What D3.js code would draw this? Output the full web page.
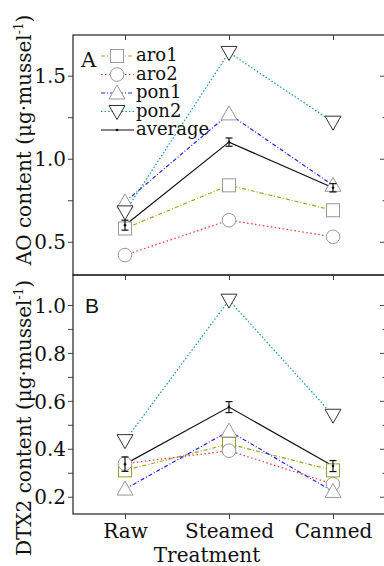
<!DOCTYPE html>
<meta charset="utf-8">
<html>
<script src="https://d3js.org/d3.v7.min.js"></script>
<style>
  body { margin: 0; background: #fff; }
  text { font-family: "DejaVu Serif", serif; fill: #111; }
</style>
<body>
<svg id="chart"></svg>
<script>
// ---------------- data ----------------
const treatments = ["Raw", "Steamed", "Canned"];
const seriesNames = ["aro1", "aro2", "pon1", "pon2"];

// panel A : AO content
const aoAro1 = [0.58, 0.84, 0.69];
const aoAro2 = [0.42, 0.63, 0.53];
const aoPon1 = [0.74, 1.27, 0.84];
const aoPon2 = [0.68, 1.64, 1.22];
const aoAvg  = [0.60, 1.10, 0.825];
const aoErr  = [0.03, 0.025, 0.025];
const aoTicks = [0.5, 1.0, 1.5];

// panel B : DTX2 content
const dtAro1 = [0.31, 0.42, 0.31];
const dtAro2 = [0.338, 0.392, 0.253];
const dtPon1 = [0.232, 0.474, 0.222];
const dtPon2 = [0.434, 1.02, 0.54];
const dtAvg  = [0.336, 0.574, 0.328];
const dtErr  = [0.03, 0.023, 0.023];
const dtTicks = [0.2, 0.4, 0.6, 0.8, 1.0];

// ---------------- layout ----------------
let width = 384, height = 566;
let svg = d3.select("#chart").attr("width", width).attr("height", height);

const left = 73, right = 385;
let x = d3.scalePoint().domain(treatments).range([left, right]).padding(0.5);

// line styles per series
const style = {
  aro1: {color: "#a3a31a", dash: "4,2,1,2"},
  aro2: {color: "#ff3333", dash: "1.5,2.5"},
  pon1: {color: "#2222ff", dash: "4,2,1,2"},
  pon2: {color: "#119999", dash: "1.5,2"}
};

function marker(g, name, cx, cy, stroke) {
  if (name == "aro1") {
    g.append("rect").attr("x", cx - 6.5).attr("y", cy - 6.5).attr("width", 13).attr("height", 13)
      .attr("fill", "#fff").attr("stroke", stroke).attr("stroke-width", 1);
  } else if (name == "aro2") {
    g.append("circle").attr("cx", cx).attr("cy", cy).attr("r", 6.8)
      .attr("fill", "#fff").attr("stroke", stroke).attr("stroke-width", 1);
  } else if (name == "pon1") {
    g.append("path").attr("d", `M${cx},${cy - 8} L${cx + 8},${cy + 6} L${cx - 8},${cy + 6} Z`)
      .attr("fill", "#fff").attr("stroke", stroke).attr("stroke-width", 1);
  } else {
    g.append("path").attr("d", `M${cx - 8},${cy - 6} L${cx + 8},${cy - 6} L${cx},${cy + 8} Z`)
      .attr("fill", "#fff").attr("stroke", stroke).attr("stroke-width", 1);
  }
}

function drawPanel(cfg) {
  let y = d3.scaleLinear().domain(cfg.domain).range([cfg.bottom, cfg.top]);
  let g = svg.append("g");

  // frame
  g.append("rect").attr("x", left).attr("y", cfg.top).attr("width", right - left)
    .attr("height", cfg.bottom - cfg.top).attr("fill", "none").attr("stroke", "#222").attr("stroke-width", 1.2);

  // left axis
  let minors = d3.range(cfg.domain[0], cfg.domain[1], cfg.minorStep)
    .map(v => Math.round(v / cfg.minorStep) * cfg.minorStep)
    .filter(v => v > cfg.domain[0] && v < cfg.domain[1]);
  let isMajor = v => cfg.ticks.some(t => Math.abs(t - v) < 1e-6);
  let ya = g.append("g").attr("transform", `translate(${left},0)`)
    .call(d3.axisLeft(y).tickValues(minors).tickSize(5).tickFormat(v => isMajor(v) ? d3.format(".1f")(v) : ""))
    .call(a => a.select(".domain").remove());
  ya.selectAll("text").style("font-family", "DejaVu Serif").style("font-size", "20px").attr("fill", "#111").attr("x", -7).attr("dy", "0.36em");
  ya.selectAll("line").attr("stroke", "#444");

  // right ticks (inward)
  let yr = g.append("g").attr("transform", `translate(${right},0)`)
    .call(d3.axisRight(y).tickValues(minors).tickSize(0).tickFormat(""))
    .call(a => a.select(".domain").remove());
  yr.selectAll(".tick line").attr("x2", v => isMajor(v) ? -5 : -2.5).attr("stroke", "#444");

  // x ticks
  g.append("g").attr("transform", `translate(0,${cfg.top})`)
    .call(d3.axisBottom(x).tickSize(5).tickFormat(""))
    .call(a => a.select(".domain").remove())
    .selectAll("line").attr("stroke", "#444");
  let xb = g.append("g").attr("transform", `translate(0,${cfg.bottom})`)
    .call(d3.axisBottom(x).tickSize(cfg.showX ? 5 : 0).tickFormat(cfg.showX ? null : ""))
    .call(a => a.select(".domain").remove());
  xb.selectAll("line").attr("stroke", "#444");
  xb.selectAll("text").style("font-family", "DejaVu Serif").style("font-size", "20px").attr("fill", "#111").attr("y", 8).attr("dy", "0.8em");

  // series lines
  let line = d3.line().x((d, i) => x(treatments[i])).y(d => y(d));
  seriesNames.forEach((name, k) => {
    g.append("path").datum(cfg.series[k]).attr("d", line).attr("fill", "none")
      .attr("stroke", style[name].color).attr("stroke-width", 1.2).attr("stroke-dasharray", style[name].dash);
  });
  // average line
  g.append("path").datum(cfg.avg).attr("d", line).attr("fill", "none").attr("stroke", "#111").attr("stroke-width", 1.2);

  // markers
  seriesNames.forEach((name, k) => {
    cfg.series[k].forEach((v, i) => marker(g, name, x(treatments[i]), y(v), cfg.stroke[k]));
  });

  // error bars
  cfg.avg.forEach((v, i) => {
    let cx = x(treatments[i]);
    let e = cfg.err[i];
    g.append("line").attr("x1", cx).attr("x2", cx).attr("y1", y(v - e)).attr("y2", y(v + e)).attr("stroke", "#111").attr("stroke-width", 1.2);
    [v - e, v + e].forEach(w => g.append("line").attr("x1", cx - 3.5).attr("x2", cx + 3.5).attr("y1", y(w)).attr("y2", y(w)).attr("stroke", "#111").attr("stroke-width", 1.2));
    g.append("circle").attr("cx", cx).attr("cy", y(v)).attr("r", 1.3).attr("fill", "#111");
  });

  // y title
  let t = svg.append("text").attr("transform", `translate(31,${cfg.titleY}) rotate(-90)`)
    .attr("text-anchor", "middle").style("font-size", "20px");
  t.append("tspan").text(cfg.title + " (μg·mussel");
  t.append("tspan").attr("dy", -8).style("font-size", "12px").text("-1");
  t.append("tspan").attr("dy", 8).text(")");
  return y;
}

drawPanel({
  top: 35, bottom: 275, domain: [0.30, 1.745], minorStep: 0.25, ticks: aoTicks,
  series: [aoAro1, aoAro2, aoPon1, aoPon2], avg: aoAvg, err: aoErr,
  stroke: ["#999", "#999", "#999", "#333"], showX: false,
  title: "AO content", titleY: 140
});
drawPanel({
  top: 275, bottom: 514, domain: [0.128, 1.125], minorStep: 0.1, ticks: dtTicks,
  series: [dtAro1, dtAro2, dtPon1, dtPon2], avg: dtAvg, err: dtErr,
  stroke: ["#9c9c2c", "#999", "#999", "#333"], showX: true,
  title: "DTX2 content", titleY: 418
});

// panel letters
svg.append("text").attr("x", 81).attr("y", 67).style("font-size", "21px").text("A");
svg.append("text").attr("x", 85).attr("y", 313).style("font-family", "Liberation Sans").style("font-size", "21px").text("B");

// x title
svg.append("text").attr("x", 207).attr("y", 562).attr("text-anchor", "middle").style("font-size", "20px").text("Treatment");

// legend
let leg = svg.append("g");
const legNames = seriesNames.concat(["average"]);
legNames.forEach((name, i) => {
  let cy = 56 + i * 18.5;
  let row = leg.append("g");
  if (name == "average") {
    row.append("line").attr("x1", 101).attr("x2", 134).attr("y1", cy).attr("y2", cy).attr("stroke", "#111").attr("stroke-width", 1.2);
    row.append("circle").attr("cx", 117).attr("cy", cy).attr("r", 1.3).attr("fill", "#111");
  } else {
    row.append("line").attr("x1", 101).attr("x2", 134).attr("y1", cy).attr("y2", cy)
      .attr("stroke", style[name].color).attr("stroke-width", 1.2).attr("stroke-dasharray", style[name].dash);
    marker(row, name, 117, cy, name == "pon2" ? "#333" : "#999");
  }
  row.append("text").attr("x", 136).attr("y", cy + 5).style("font-size", "18px").text(name);
});
</script>
</body>
</html>
